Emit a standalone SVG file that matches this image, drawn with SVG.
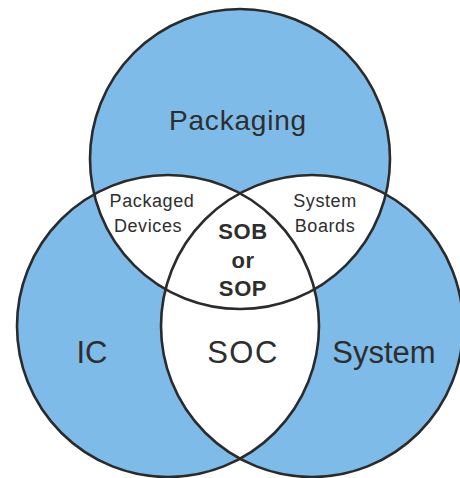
<svg xmlns="http://www.w3.org/2000/svg" width="460" height="478" viewBox="0 0 460 478">
  <style>
    .disc { fill: #7fbbe8; }
    .lens { fill: #ffffff; }
    .rim { fill: none; stroke: #2b2b2b; stroke-width: 2.6; }
    text { font-family: "Liberation Sans", Arial, Helvetica, sans-serif; fill: #2e2e2e; text-anchor: middle; }
    .big { font-size: 31px; }
    .mid { font-size: 28px; }
    .small { font-size: 18px; letter-spacing: 0.6px; }
    .core { font-size: 22px; font-weight: bold; letter-spacing: 0.6px; }
  </style>
  <defs>
    <circle id="cTop" cx="240" cy="159" r="150"/>
    <circle id="cLeft" cx="168" cy="326" r="151"/>
    <circle id="cRight" cx="312" cy="326" r="151"/>
    <clipPath id="clipTop"><use href="#cTop"/></clipPath>
    <clipPath id="clipLeft"><use href="#cLeft"/></clipPath>
  </defs>

  <rect width="460" height="478" fill="#ffffff"/>

  <!-- blue discs -->
  <g id="packaging">
    <use href="#cTop" class="disc"/>
  </g>
  <g id="ic">
    <use href="#cLeft" class="disc"/>
  </g>
  <g id="system">
    <use href="#cRight" class="disc"/>
  </g>

  <!-- overlapping regions are left white -->
  <g id="overlaps">
    <use href="#cLeft" class="lens" clip-path="url(#clipTop)"/>
    <use href="#cRight" class="lens" clip-path="url(#clipTop)"/>
    <use href="#cRight" class="lens" clip-path="url(#clipLeft)"/>
  </g>

  <!-- outlines -->
  <g id="outlines">
    <use href="#cTop" class="rim"/>
    <use href="#cLeft" class="rim"/>
    <use href="#cRight" class="rim"/>
  </g>

  <g id="labels">
    <text class="mid" x="238" y="130" letter-spacing="0.8">Packaging</text>
    <text class="small" x="152" y="207">Packaged</text>
    <text class="small" x="148" y="232">Devices</text>
    <text class="small" x="325" y="207">System</text>
    <text class="small" x="325" y="232">Boards</text>
    <text class="core" x="243" y="239">SOB</text>
    <text class="core" x="243" y="268">or</text>
    <text class="core" x="243" y="296">SOP</text>
    <text class="big" x="92" y="363">IC</text>
    <text class="big" x="243" y="363" letter-spacing="1.5">SOC</text>
    <text class="big" x="384" y="363">System</text>
  </g>
</svg>
